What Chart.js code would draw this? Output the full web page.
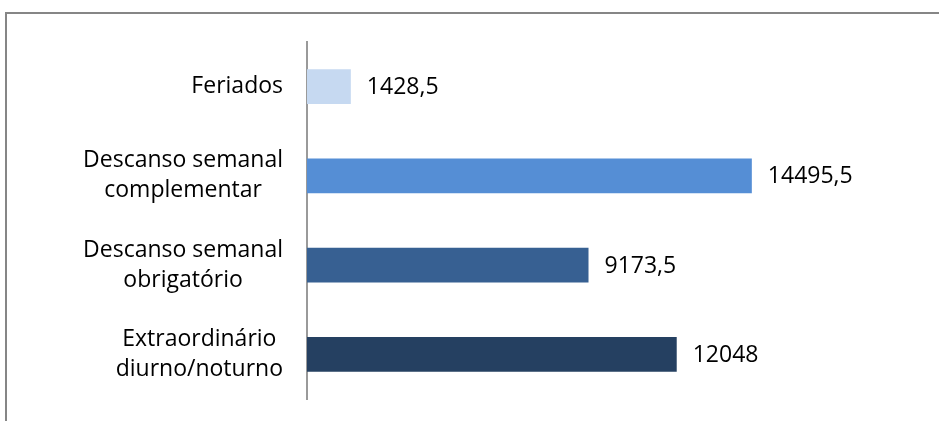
<!DOCTYPE html>
<html>
<head>
<meta charset="utf-8">
<script src="https://cdn.jsdelivr.net/npm/chart.js@4"></script>
<style>
  html, body { margin: 0; padding: 0; background: #ffffff; }
  #wrap { position: relative; width: 939px; height: 421px; overflow: hidden; }
  #frame {
    position: absolute; left: 5px; top: 12px; width: 1000px; height: 500px;
    border: 2px solid #868686; box-sizing: border-box;
  }
  #chart { position: absolute; left: 0; top: 0; }
</style>
</head>
<body>
<div id="wrap">
  <div id="frame"></div>
  <canvas id="chart" width="939" height="421"></canvas>
</div>
<script>
const categories = [
  ["Feriados"],
  ["Descanso semanal", "complementar"],
  ["Descanso semanal", "obrigatório"],
  ["Extraordinário", "diurno/noturno"],
];
const hours = [1428.5, 14495.5, 9173.5, 12048];
const barColors = ["#c6d9f1", "#558ed5", "#376092", "#254061"];
const axisMax = 16000;

const fontFamily = "'Open Sans', Lato, sans-serif";
const fontSize = 23;
const lineGap = 30;
const labelGap = 24;

function formatValue(v) {
  return String(v).replace(".", ",");
}

// category labels: each block sits right of the axis gap, lines centred within it
const categoryLabels = {
  id: "categoryLabels",
  afterDraw(chart) {
    const ctx = chart.ctx;
    const yScale = chart.scales.y;
    const right = yScale.right - labelGap;
    ctx.save();
    ctx.font = fontSize + "px " + fontFamily;
    ctx.fillStyle = "#000000";
    ctx.textAlign = "center";
    ctx.textBaseline = "middle";
    categories.forEach((lines, i) => {
      const widest = Math.max(...lines.map((l) => ctx.measureText(l).width));
      const cx = right - widest / 2;
      const cy = yScale.getPixelForTick(i);
      const startY = cy - ((lines.length - 1) * lineGap) / 2;
      lines.forEach((line, j) => {
        ctx.fillText(line, cx, startY + j * lineGap);
      });
    });
    ctx.restore();
  },
};

// value labels to the right of each bar
const valueLabels = {
  id: "valueLabels",
  afterDatasetsDraw(chart) {
    const ctx = chart.ctx;
    const meta = chart.getDatasetMeta(0);
    ctx.save();
    ctx.font = fontSize + "px " + fontFamily;
    ctx.fillStyle = "#000000";
    ctx.textAlign = "left";
    ctx.textBaseline = "middle";
    meta.data.forEach((bar, i) => {
      ctx.fillText(formatValue(hours[i]), bar.x + 16, bar.y + 1);
    });
    ctx.restore();
  },
};

new Chart(document.getElementById("chart"), {
  type: "bar",
  data: {
    labels: categories,
    datasets: [
      {
        data: hours,
        backgroundColor: barColors,
        barPercentage: 0.39,
        categoryPercentage: 1,
      },
    ],
  },
  options: {
    indexAxis: "y",
    responsive: false,
    animation: false,
    layout: { padding: { top: 42, bottom: 22, right: 141, left: 0 } },
    plugins: {
      legend: { display: false },
      tooltip: { enabled: false },
    },
    scales: {
      x: { display: false, min: 0, max: axisMax },
      y: {
        grid: { display: false, drawTicks: false },
        border: { display: true, color: "#9a9a9a", width: 2 },
        ticks: { display: false },
        afterFit(scale) {
          // fixed label column; no extra room for the tall labels
          scale.width = 307;
          scale.paddingTop = 0;
          scale.paddingBottom = 0;
        },
      },
    },
  },
  plugins: [categoryLabels, valueLabels],
});
</script>
</body>
</html>
